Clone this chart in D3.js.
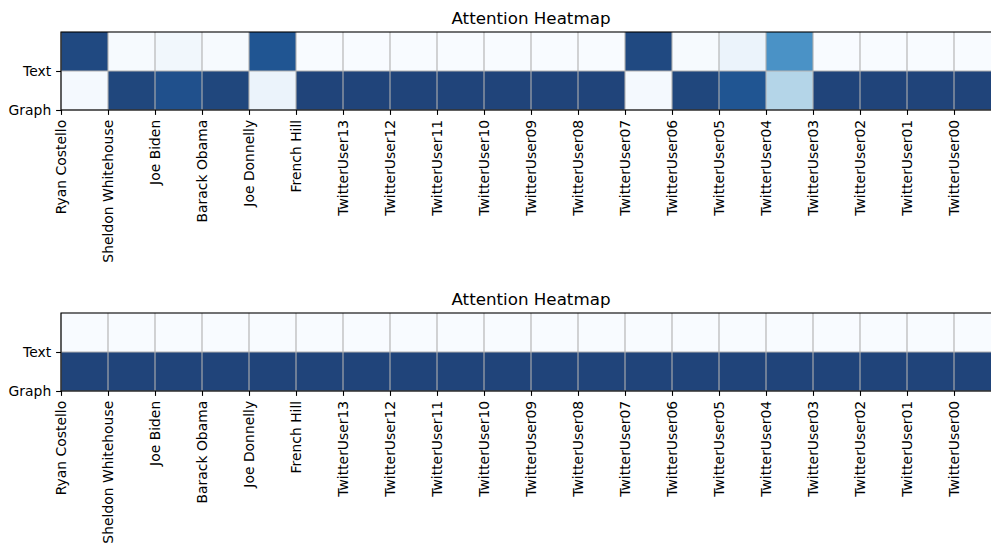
<!DOCTYPE html>
<html>
<head>
<meta charset="utf-8">
<script src="https://cdn.jsdelivr.net/npm/d3@7"></script>
<style>
  body { margin: 0; background: #fff; }
  svg { font-family: "DejaVu Sans", sans-serif; }
</style>
</head>
<body>
<svg width="991" height="546"></svg>
<script>
const svg = d3.select("svg");

// column labels (one per column of the heatmap)
const names = ["Ryan Costello", "Sheldon Whitehouse", "Joe Biden", "Barack Obama", "Joe Donnelly",
  "French Hill", "TwitterUser13", "TwitterUser12", "TwitterUser11", "TwitterUser10",
  "TwitterUser09", "TwitterUser08", "TwitterUser07", "TwitterUser06", "TwitterUser05",
  "TwitterUser04", "TwitterUser03", "TwitterUser02", "TwitterUser01", "TwitterUser00"];
const rowLabels = ["Graph", "Text"]; // tick 0, tick 1

// attention weights, first heatmap
const text1  = [0.98, 0.01, 0.04, 0.01, 0.93, 0.00, 0.00, 0.00, 0.00, 0.00,
                0.00, 0.00, 0.98, 0.01, 0.07, 0.67, 0.00, 0.00, 0.00, 0.00];
const graph1 = [0.02, 0.99, 0.95, 0.99, 0.07, 1.00, 1.00, 1.00, 1.00, 1.00,
                1.00, 1.00, 0.02, 0.99, 0.93, 0.33, 1.00, 1.00, 1.00, 1.00];
// attention weights, second heatmap
const text2  = [0, 0, 0, 0, 0, 0, 0, 0, 0, 0, 0, 0, 0, 0, 0, 0, 0, 0, 0, 0];
const graph2 = [1, 1, 1, 1, 1, 1, 1, 1, 1, 1, 1, 1, 1, 1, 1, 1, 1, 1, 1, 1];

// matplotlib "Blues"
const blues = d3.scaleLinear()
  .domain(d3.range(9).map(i => i / 8))
  .range(["#f7fbff", "#deebf7", "#c6dbef", "#9ecae1", "#6baed6", "#4292c6", "#2171b5", "#08519c", "#08306b"])
  .interpolate(d3.interpolateRgb);

const left = 61, axW = 940;
const x = d3.scaleLinear().domain([0, names.length]).range([left, left + axW]);

function drawHeatmap(top, bottom, textVals, graphVals) {
  const y = d3.scaleLinear().domain([0, 2]).range([bottom, top]);
  const g = svg.append("g");

  const cells = [];
  graphVals.forEach((v, i) => cells.push({ col: i, row: 0, v: v }));
  textVals.forEach((v, i) => cells.push({ col: i, row: 1, v: v }));

  g.selectAll("rect.cell")
    .data(cells)
    .enter().append("rect")
    .attr("class", "cell")
    .attr("x", d => x(d.col))
    .attr("y", d => y(d.row + 1))
    .attr("width", d => x(d.col + 1) - x(d.col))
    .attr("height", d => y(d.row) - y(d.row + 1))
    .attr("fill", d => blues(d.v))
    .attr("fill-opacity", 0.9)
    .attr("shape-rendering", "crispEdges");

  // grid lines
  g.selectAll("line.vg")
    .data(d3.range(names.length))
    .enter().append("line")
    .attr("x1", d => x(d)).attr("x2", d => x(d))
    .attr("y1", top).attr("y2", bottom)
    .attr("stroke", "#b0b0b0").attr("stroke-width", 1.1);
  g.selectAll("line.hg")
    .data([0, 1])
    .enter().append("line")
    .attr("x1", left).attr("x2", left + axW)
    .attr("y1", d => y(d)).attr("y2", d => y(d))
    .attr("stroke", "#b0b0b0").attr("stroke-width", 1.1);

  // spines
  g.append("rect")
    .attr("x", left).attr("y", top)
    .attr("width", axW).attr("height", bottom - top)
    .attr("fill", "none").attr("stroke", "#000").attr("stroke-width", 1.1);

  const xAxis = g.append("g")
    .attr("transform", `translate(0,${bottom})`)
    .call(d3.axisBottom(x).tickValues(d3.range(names.length))
      .tickFormat(i => names[i]).tickSize(4.9).tickSizeOuter(0).tickPadding(4.9));
  xAxis.select(".domain").remove();
  xAxis.selectAll("line").attr("stroke", "#000").attr("stroke-width", 1.1);
  xAxis.selectAll("text")
    .attr("font-size", 13.9).attr("font-family", "DejaVu Sans").attr("fill", "#000")
    .attr("text-anchor", "end")
    .attr("transform", "rotate(-90)")
    .attr("x", -9.8).attr("y", 0).attr("dy", "0.35em");

  const yAxis = g.append("g")
    .attr("transform", `translate(${left},0)`)
    .call(d3.axisLeft(y).tickValues([0, 1]).tickFormat(i => rowLabels[i])
      .tickSize(4.9).tickSizeOuter(0).tickPadding(4.9));
  yAxis.select(".domain").remove();
  yAxis.selectAll("line").attr("stroke", "#000").attr("stroke-width", 1.1);
  yAxis.selectAll("text")
    .attr("font-size", 13.9).attr("font-family", "DejaVu Sans").attr("fill", "#000");

  svg.append("text")
    .attr("x", left + axW / 2).attr("y", top - 8.3)
    .attr("text-anchor", "middle")
    .attr("font-size", 16.7)
    .text("Attention Heatmap");
}

drawHeatmap(32, 110, text1, graph1);
drawHeatmap(313, 391, text2, graph2);
</script>
</body>
</html>
